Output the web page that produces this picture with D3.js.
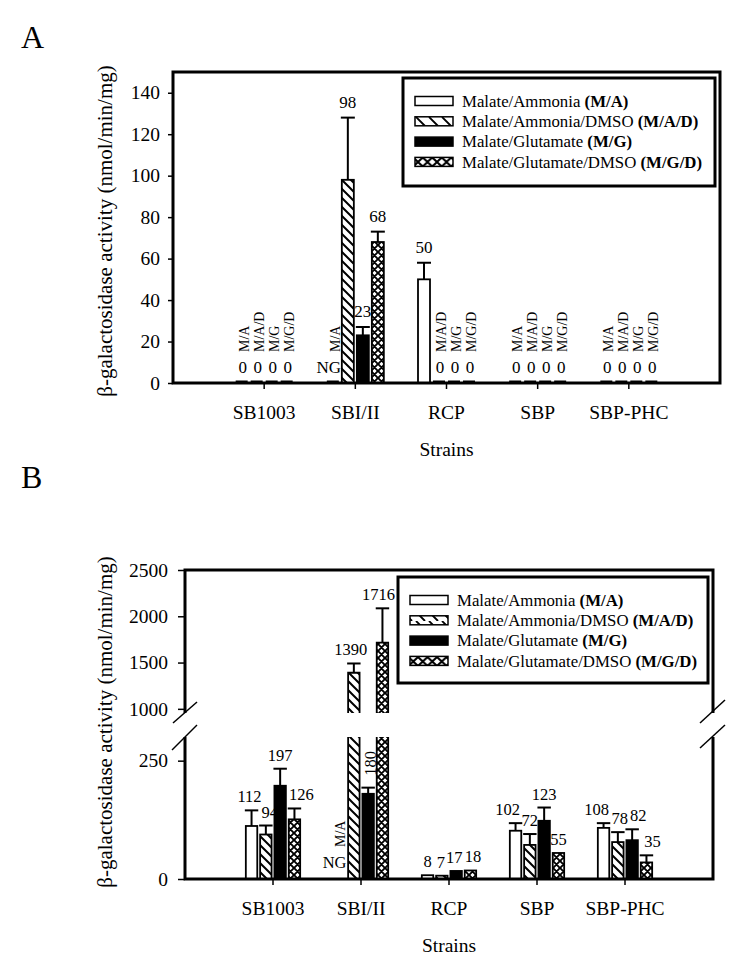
<!DOCTYPE html>
<html><head><meta charset="utf-8">
<script src="https://cdn.jsdelivr.net/npm/d3@7"></script>
<style>
body{margin:0;background:#fff}
svg{display:block}
text{font-family:"Liberation Serif","Times New Roman",serif;fill:#000}
</style>
</head><body><svg id="c" width="748" height="967"></svg>
<script>
// ---------------- DATA ----------------
const categories = ["SB1003", "SBI/II", "RCP", "SBP", "SBP-PHC"];
const seriesKeys = ["M/A", "M/A/D", "M/G", "M/G/D"];
const seriesNames = ["Malate/Ammonia", "Malate/Ammonia/DMSO", "Malate/Glutamate", "Malate/Glutamate/DMSO"];

// Panel A (null = NG, no growth)
const aMA  = [0, null, 50, 0, 0];
const aMAD = [0, 98, 0, 0, 0];
const aMG  = [0, 23, 0, 0, 0];
const aMGD = [0, 68, 0, 0, 0];
const aErrMA  = [0, 0, 8, 0, 0];
const aErrMAD = [0, 30, 0, 0, 0];
const aErrMG  = [0, 4, 0, 0, 0];
const aErrMGD = [0, 5, 0, 0, 0];
const ticksA = [0, 20, 40, 60, 80, 100, 120, 140];

// Panel B (null = NG, no growth)
const bMA  = [112, null, 8, 102, 108];
const bMAD = [94, 1390, 7, 72, 78];
const bMG  = [197, 180, 17, 123, 82];
const bMGD = [126, 1716, 18, 55, 35];
const bErrMA  = [33, 0, 0, 16, 10];
const bErrMAD = [19, 100, 0, 23, 21];
const bErrMG  = [36, 13, 0, 28, 23];
const bErrMGD = [23, 370, 0, 0, 15];
const ticksBLow = [0, 250];
const ticksBHigh = [1000, 1500, 2000, 2500];

// ---------------- SETUP ----------------
const FONT = '"Liberation Serif","Times New Roman",serif';
const svg = d3.select("#c");
const defs = svg.append("defs");

function hatchPattern(id, w, h, d, sw) {
  const p = defs.append("pattern").attr("id", id).attr("patternUnits", "userSpaceOnUse")
    .attr("width", w).attr("height", h);
  p.append("rect").attr("width", w).attr("height", h).attr("fill", "#fff");
  p.append("path").attr("d", d).attr("stroke", "#000").attr("stroke-width", sw).attr("fill", "none");
}
hatchPattern("hatch", 9, 9, "M-1,-1L10,10M-1,8L1,10M8,-1L10,1", 2);
hatchPattern("cross", 7, 7, "M-1,-1L8,8M-1,6L1,8M6,-1L8,1M8,-1L-1,8M1,-1L-1,1M8,6L6,8", 1.9);
hatchPattern("hatchL", 13, 9, "M0,0L9,9M13,0L22,9M-13,0L-4,9", 1.9);
hatchPattern("crossL", 9.5, 9, "M0,0L9.5,9M9.5,0L0,9", 2);

const fills = ["#fff", "url(#hatch)", "#000", "url(#cross)"];
const fillsL = ["#fff", "url(#hatchL)", "#000", "url(#crossL)"];
const fmt = d3.format("d");

function styleAxis(g, size) {
  g.select(".domain").remove();
  g.selectAll("line").attr("stroke", "#000").attr("stroke-width", 1.5);
  g.selectAll("text").attr("font-family", FONT).attr("font-size", size).attr("fill", "#000");
}

function legend(x, y, w, h) {
  const g = svg.append("g");
  g.append("rect").attr("x", x).attr("y", y).attr("width", w).attr("height", h)
    .attr("fill", "#fff").attr("stroke", "#000").attr("stroke-width", 3);
  seriesKeys.forEach((k, i) => {
    const cy = y + 23 + i * 20.3;
    g.append("rect").attr("x", x + 12).attr("y", cy - 4.5).attr("width", 38).attr("height", 9)
      .attr("fill", fillsL[i]).attr("stroke", "#000").attr("stroke-width", 1.5);
    const t = g.append("text").attr("x", x + 59).attr("y", cy).attr("dy", "0.35em").attr("font-size", 16.8);
    t.append("tspan").text(seriesNames[i] + " ");
    t.append("tspan").attr("font-weight", "bold").text("(" + k + ")");
  });
}

function yTitle(cx, cy) {
  svg.append("text").attr("transform", `translate(${cx},${cy}) rotate(-90)`)
    .attr("text-anchor", "middle").attr("dy", "0.35em").attr("font-size", 21)
    .text("β-galactosidase activity (nmol/min/mg)");
}

function xLabels(x, bottom) {
  categories.forEach(c => {
    svg.append("line").attr("x1", x(c)).attr("x2", x(c)).attr("y1", bottom).attr("y2", bottom + 6)
      .attr("stroke", "#000").attr("stroke-width", 1.5);
    svg.append("text").attr("x", x(c)).attr("y", bottom + 36).attr("text-anchor", "middle")
      .attr("font-size", 19.5).text(c);
  });
  const r = x.range();
  svg.append("text").attr("x", (r[0] + r[1]) / 2).attr("y", bottom + 73).attr("text-anchor", "middle")
    .attr("font-size", 19.5).text("Strains");
}

function errBar(g, cx, y1, y2, cap) {
  g.append("line").attr("x1", cx).attr("x2", cx).attr("y1", y1).attr("y2", y2)
    .attr("stroke", "#000").attr("stroke-width", 2);
  g.append("line").attr("x1", cx - cap / 2).attr("x2", cx + cap / 2).attr("y1", y2).attr("y2", y2)
    .attr("stroke", "#000").attr("stroke-width", 2);
}

// ---------------- PANEL A ----------------
(function () {
  const L = 173, R = 720, T = 72, Bm = 383;
  const vals = [aMA, aMAD, aMG, aMGD];
  const errs = [aErrMA, aErrMAD, aErrMG, aErrMGD];
  const x = d3.scalePoint().domain(categories).range([L, R]).padding(1);
  const sub = d3.scaleBand().domain(seriesKeys).range([-30, 30]).paddingInner(0.2).paddingOuter(0.1);
  const y = d3.scaleLinear().domain([0, 150]).range([Bm, T]);
  const bw = sub.bandwidth();

  svg.append("text").attr("x", 21).attr("y", 48).attr("font-size", 32).text("A");

  const ax = svg.append("g").attr("transform", `translate(${L},0)`)
    .call(d3.axisLeft(y).tickValues(ticksA).tickFormat(fmt).tickSize(5).tickPadding(8));
  styleAxis(ax, 19.5);
  yTitle(105, 231);

  const g = svg.append("g");
  categories.forEach((c, i) => {
    seriesKeys.forEach((k, j) => {
      const v = vals[j][i], e = errs[j][i];
      const bx = x(c) + sub(k), cx = bx + bw / 2;
      if (v === null || v === 0) {
        g.append("rect").attr("x", bx).attr("y", Bm - 2.5).attr("width", bw).attr("height", 2.5).attr("fill", "#000");
        g.append("text").attr("x", v === null ? cx - 4 : cx + 1).attr("y", Bm - 10).attr("text-anchor", "middle")
          .attr("font-size", 17).text(v === null ? "NG" : "0");
        g.append("text").attr("transform", `translate(${cx + 2},${Bm - 31}) rotate(-90)`)
          .attr("dy", "0.35em").attr("font-size", 14).text(k);
      } else {
        g.append("rect").attr("x", bx).attr("y", y(v)).attr("width", bw).attr("height", Bm - y(v))
          .attr("fill", fills[j]).attr("stroke", "#000").attr("stroke-width", 1.8);
        if (e > 0) errBar(g, cx, y(v), y(v + e), bw + 2);
        g.append("text").attr("x", cx).attr("y", y(v + e) - 10).attr("text-anchor", "middle")
          .attr("font-size", 17).text(fmt(v));
      }
    });
  });

  svg.append("rect").attr("x", L).attr("y", T).attr("width", R - L).attr("height", Bm - T)
    .attr("fill", "none").attr("stroke", "#000").attr("stroke-width", 3);
  legend(403, 78, 312, 108);
  xLabels(x, Bm);
})();

// ---------------- PANEL B ----------------
(function () {
  const L = 185, R = 713, T = 570, Bm = 879, gapTop = 713, gapBot = 737;
  const vals = [bMA, bMAD, bMG, bMGD];
  const errs = [bErrMA, bErrMAD, bErrMG, bErrMGD];
  const x = d3.scalePoint().domain(categories).range([L, R]).padding(1);
  const sub = d3.scaleBand().domain(seriesKeys).range([-28.6, 28.6]).paddingInner(0.2).paddingOuter(0.1);
  const yLow = d3.scaleLinear().domain([0, 300]).range([Bm, gapBot]);
  const yHigh = d3.scaleLinear().domain([955, 2500]).range([gapTop, T]);
  const yv = v => v <= 300 ? yLow(v) : yHigh(v);
  const bw = sub.bandwidth();
  // small horizontal nudges for crowded value labels (layout only)
  const nudge = { "SBP|M/A": -8, "SBP-PHC|M/A": -7, "SBP-PHC|M/G": 6, "SBP-PHC|M/G/D": 6, "SBP-PHC|M/A/D": 2,
                  "SB1003|M/A": -2, "SB1003|M/A/D": 4, "SB1003|M/G/D": 7, "SBI/II|M/A/D": -3, "SBI/II|M/G/D": -4,
                  "RCP|M/G": -2, "RCP|M/G/D": 2.5, "RCP|M/A/D": -1 };
  const rotated = ["SBI/II|M/G"];

  svg.append("text").attr("x", 21).attr("y", 488).attr("font-size", 32).text("B");

  const ax1 = svg.append("g").attr("transform", `translate(${L},0)`)
    .call(d3.axisLeft(yLow).tickValues(ticksBLow).tickFormat(fmt).tickSize(7).tickPadding(10));
  styleAxis(ax1, 19.5);
  const ax2 = svg.append("g").attr("transform", `translate(${L},0)`)
    .call(d3.axisLeft(yHigh).tickValues(ticksBHigh).tickFormat(fmt).tickSize(7).tickPadding(10));
  styleAxis(ax2, 19.5);
  yTitle(105, 722);

  const g = svg.append("g");
  categories.forEach((c, i) => {
    seriesKeys.forEach((k, j) => {
      const v = vals[j][i], e = errs[j][i];
      const bx = x(c) + sub(k), cx = bx + bw / 2;
      const key = c + "|" + k;
      if (v === null) {
        g.append("text").attr("x", cx - 5).attr("y", Bm - 11).attr("text-anchor", "middle")
          .attr("font-size", 16.5).text("NG");
        g.append("text").attr("transform", `translate(${cx + 1},${Bm - 32}) rotate(-90)`)
          .attr("dy", "0.35em").attr("font-size", 14).text(k);
        return;
      }
      if (v <= 300) {
        g.append("rect").attr("x", bx).attr("y", yLow(v)).attr("width", bw).attr("height", Bm - yLow(v))
          .attr("fill", fills[j]).attr("stroke", "#000").attr("stroke-width", 1.8);
      } else {
        g.append("rect").attr("x", bx).attr("y", gapBot).attr("width", bw).attr("height", Bm - gapBot)
          .attr("fill", fills[j]);
        g.append("path").attr("d", `M${bx},${gapBot}V${Bm}M${bx + bw},${gapBot}V${Bm}`)
          .attr("stroke", "#000").attr("stroke-width", 1.8).attr("fill", "none");
        g.append("rect").attr("x", bx).attr("y", yHigh(v)).attr("width", bw).attr("height", gapTop - yHigh(v))
          .attr("fill", fills[j]);
        g.append("path").attr("d", `M${bx},${gapTop}V${yHigh(v)}H${bx + bw}V${gapTop}`)
          .attr("stroke", "#000").attr("stroke-width", 1.8).attr("fill", "none");
      }
      if (e > 0) errBar(g, cx, yv(v), yv(v + e), bw + 2);
      if (rotated.includes(key)) {
        g.append("text").attr("transform", `translate(${cx + 2},${yv(v + e) - 12}) rotate(-90)`)
          .attr("dy", "0.35em").attr("font-size", 16.5).text(fmt(v));
      } else {
        g.append("text").attr("x", cx + (nudge[key] || 0)).attr("y", yv(v + e) - 8).attr("text-anchor", "middle")
          .attr("font-size", 16.5).text(fmt(v));
      }
    });
  });

  svg.append("path")
    .attr("d", `M${L},${gapTop}V${T}H${R}V${gapTop}M${L},${gapBot}V${Bm}H${R}V${gapBot}`)
    .attr("fill", "none").attr("stroke", "#000").attr("stroke-width", 3);
  const bm = [[L - 12, 723, L + 12, 702], [L - 13, 750, L + 12, 725],
              [R - 13, 723, R + 12, 700], [R - 13, 748, R + 12, 725]];
  bm.forEach(d => svg.append("line").attr("x1", d[0]).attr("y1", d[1]).attr("x2", d[2]).attr("y2", d[3])
    .attr("stroke", "#000").attr("stroke-width", 1.5));

  legend(398, 577, 310, 106);
  xLabels(x, Bm);
})();
</script>
</body></html>
